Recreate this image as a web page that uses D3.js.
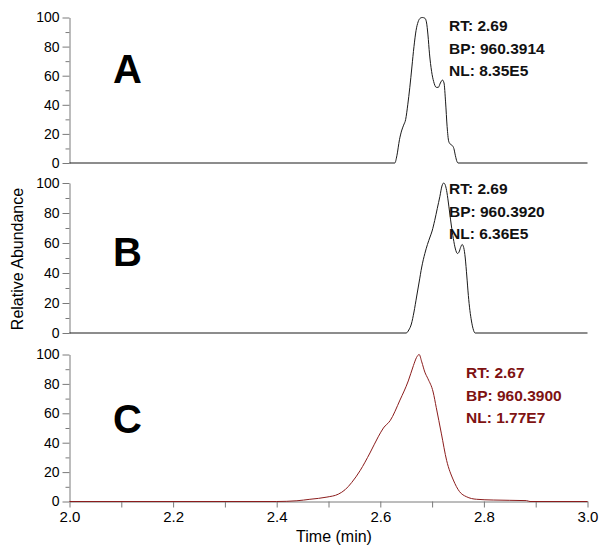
<!DOCTYPE html>
<html>
<head>
<meta charset="utf-8">
<script src="https://cdn.jsdelivr.net/npm/d3@7"></script>
<style>
  body { margin: 0; background: #fff; }
  svg { display: block; font-family: "Liberation Sans", Arial, sans-serif; }
</style>
</head>
<body>
<svg id="chart" width="602" height="546"></svg>
<script>
// Retention-time window (min) and axis ticks
const timeDomain = [2.0, 3.0];
const timeTicks = [2.0, 2.1, 2.2, 2.3, 2.4, 2.5, 2.6, 2.7, 2.8, 2.9, 3.0];
const timeTickLabels = ["2.0", "", "2.2", "", "2.4", "", "2.6", "", "2.8", "", "3.0"];
const abundanceTicks = [0, 20, 40, 60, 80, 100];
const abundanceMinorTicks = [10, 30, 50, 70, 90];

// Trace A: extracted ion chromatogram
const traceATime = [2.0, 2.628, 2.632, 2.637, 2.641, 2.645, 2.649, 2.653, 2.657, 2.661, 2.665, 2.669, 2.673, 2.677, 2.681, 2.686, 2.689, 2.692, 2.695, 2.699, 2.703, 2.708, 2.712, 2.716, 2.720, 2.723, 2.726, 2.729, 2.732, 2.735, 2.739, 2.742, 2.745, 2.748, 2.750, 3.0];
const traceAAbund = [0, 0, 5, 16, 22, 26, 30, 40, 52, 66, 80, 91, 97, 99.5, 100, 99.5, 97, 88, 75, 63, 56, 52, 52, 55, 57, 55, 42, 25, 15, 13, 12, 10, 5, 1, 0, 0];

// Trace B
const traceBTime = [2.0, 2.650, 2.655, 2.660, 2.665, 2.670, 2.675, 2.680, 2.686, 2.691, 2.696, 2.700, 2.705, 2.710, 2.715, 2.719, 2.7225, 2.725, 2.728, 2.731, 2.734, 2.737, 2.741, 2.745, 2.749, 2.752, 2.755, 2.758, 2.761, 2.764, 2.767, 2.770, 2.773, 2.776, 2.779, 2.783, 3.0];
const traceBAbund = [0, 0, 2, 6, 14, 24, 34, 44, 53, 59, 64, 68, 75, 83, 91, 98, 100, 99, 95, 88, 80, 72, 63, 56, 53, 54, 57, 59, 57, 50, 38, 25, 15, 8, 3, 0, 0];

// Trace C
const traceCTime = [2.0, 2.40, 2.439, 2.464, 2.497, 2.519, 2.532, 2.545, 2.561, 2.580, 2.596, 2.606, 2.619, 2.638, 2.654, 2.664, 2.670, 2.675, 2.680, 2.686, 2.692, 2.702, 2.708, 2.718, 2.728, 2.741, 2.753, 2.766, 2.786, 2.818, 2.882, 2.889, 3.0];
const traceCAbund = [0, 0, 0.5, 1.5, 3, 5, 8, 13, 21, 33, 44, 50, 55, 69, 82, 92.5, 98, 100, 95, 88, 83.5, 74.5, 64, 46, 28, 14.6, 6.7, 3.3, 1.5, 1, 0.6, 0, 0];

// Panel letters and peak annotations
const panelLetters = ["A", "B", "C"];
const annotationsA = ["RT: 2.69", "BP: 960.3914", "NL: 8.35E5"];
const annotationsB = ["RT: 2.69", "BP: 960.3920", "NL: 6.36E5"];
const annotationsC = ["RT: 2.67", "BP: 960.3900", "NL: 1.77E7"];

const svg = d3.select("#chart");
const axisGrey = "#7a7a7a";
const fontStack = "'Liberation Sans', Arial, sans-serif";

const x = d3.scaleLinear().domain(timeDomain).range([69.5, 587.5]);

const panels = [
  { letter: panelLetters[0], time: traceATime, abund: traceAAbund, notes: annotationsA,
    yRange: [163, 17.5], stroke: "#1a1a1a", noteColor: "#111", noteX: 449, noteY: 31, letterY: 83 },
  { letter: panelLetters[1], time: traceBTime, abund: traceBAbund, notes: annotationsB,
    yRange: [333, 183], stroke: "#1a1a1a", noteColor: "#111", noteX: 449, noteY: 194, letterY: 266 },
  { letter: panelLetters[2], time: traceCTime, abund: traceCAbund, notes: annotationsC,
    yRange: [501.5, 354.5], stroke: "#8b1c1c", noteColor: "#7e1212", noteX: 466, noteY: 378, letterY: 433 }
];

panels.forEach((p, i) => {
  const y = d3.scaleLinear().domain([0, 100]).range(p.yRange);
  const g = svg.append("g");

  // minor ticks
  g.append("g")
    .attr("transform", `translate(${x(timeDomain[0])},0)`)
    .call(d3.axisLeft(y).tickValues(abundanceMinorTicks).tickSize(4).tickFormat(""))
    .call(a => a.select(".domain").remove())
    .call(a => a.selectAll("line").attr("stroke", axisGrey));

  // major ticks with labels
  g.append("g")
    .attr("transform", `translate(${x(timeDomain[0])},0)`)
    .call(d3.axisLeft(y).tickValues(abundanceTicks).tickSize(7).tickSizeOuter(0).tickPadding(3))
    .call(a => a.select(".domain").attr("stroke", axisGrey))
    .call(a => a.selectAll("line").attr("stroke", axisGrey))
    .call(a => a.selectAll("text").attr("font-size", 14).attr("fill", "#000")
      .attr("font-family", fontStack));

  if (i === panels.length - 1) {
    g.append("g")
      .attr("transform", `translate(0,${y(0)})`)
      .call(d3.axisBottom(x).tickValues(timeTicks).tickSize(6).tickSizeOuter(0).tickPadding(4)
        .tickFormat((d, k) => timeTickLabels[k]))
      .call(a => a.select(".domain").attr("stroke", axisGrey))
      .call(a => a.selectAll("line").attr("stroke", axisGrey))
      .call(a => a.selectAll("text").attr("font-size", 15).attr("fill", "#000")
        .attr("font-family", fontStack));
  }

  const pts = p.time.map((t, k) => [t, p.abund[k]]);
  const line = d3.line()
    .x(d => x(d[0]))
    .y(d => y(d[1]))
    .curve(d3.curveMonotoneX);

  g.append("path")
    .datum(pts)
    .attr("d", line)
    .attr("fill", "none")
    .attr("stroke", p.stroke)
    .attr("stroke-width", 1)
    .attr("stroke-linejoin", "round");

  g.append("text")
    .attr("x", 113)
    .attr("y", p.letterY)
    .attr("font-size", 40)
    .attr("font-weight", "bold")
    .attr("fill", "#000")
    .text(p.letter);

  g.selectAll("text.note")
    .data(p.notes)
    .join("text")
    .attr("class", "note")
    .attr("x", p.noteX)
    .attr("y", (d, k) => p.noteY + k * 22.5)
    .attr("font-size", 15.5)
    .attr("font-weight", "bold")
    .attr("fill", p.noteColor)
    .text(d => d);
});

// axis titles
svg.append("text")
  .attr("transform", "translate(23,259) rotate(-90)")
  .attr("text-anchor", "middle")
  .attr("font-size", 16)
  .attr("fill", "#000")
  .text("Relative Abundance");

svg.append("text")
  .attr("x", 334)
  .attr("y", 542)
  .attr("text-anchor", "middle")
  .attr("font-size", 16)
  .attr("fill", "#000")
  .text("Time (min)");
</script>
</body>
</html>
